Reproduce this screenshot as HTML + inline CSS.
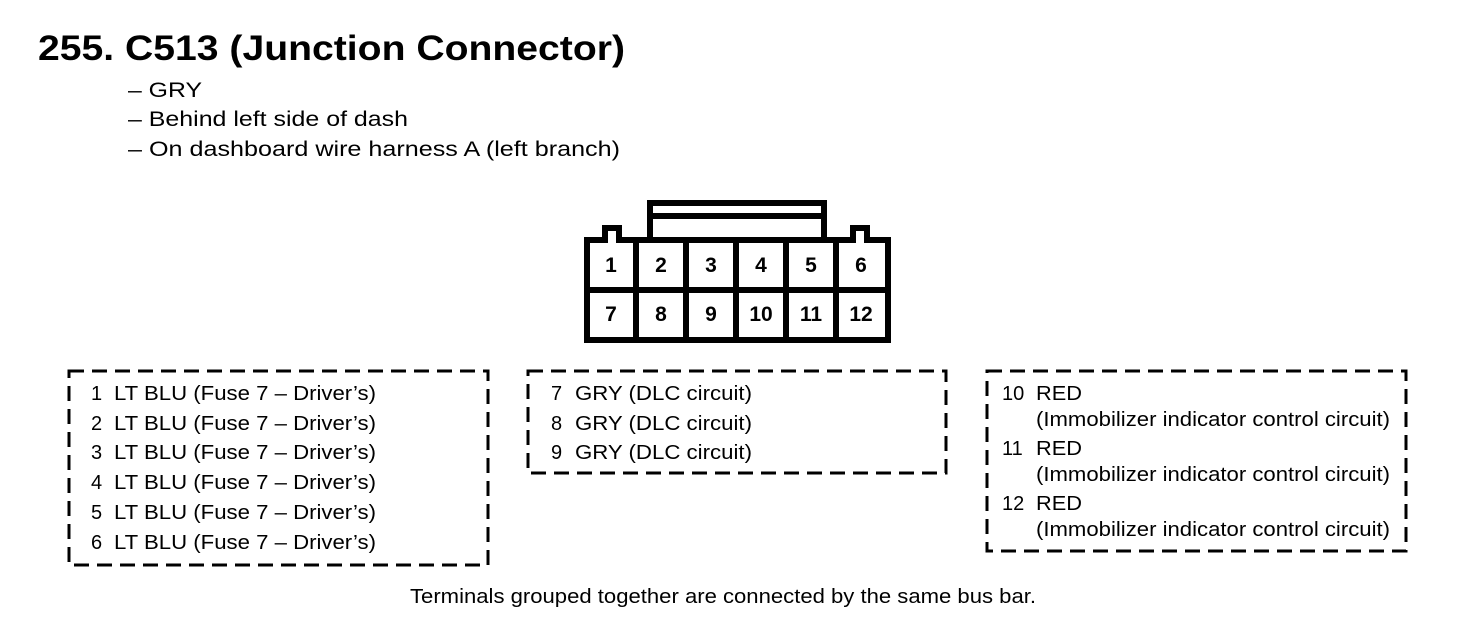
<!DOCTYPE html>
<html><head><style>html,body{margin:0;padding:0;background:#fff}</style></head>
<body>
<svg width="1472" height="618" viewBox="0 0 1472 618" xmlns="http://www.w3.org/2000/svg" font-family="Liberation Sans, Arial, sans-serif">
<rect width="1472" height="618" fill="#fff"/>
<text x="38" y="60" font-size="35" font-weight="bold" textLength="587" lengthAdjust="spacingAndGlyphs">255. C513 (Junction Connector)</text>
<g font-size="21">
<text x="128" y="97" textLength="74" lengthAdjust="spacingAndGlyphs">– GRY</text>
<text x="128" y="126" textLength="280" lengthAdjust="spacingAndGlyphs">– Behind left side of dash</text>
<text x="128" y="156" textLength="492" lengthAdjust="spacingAndGlyphs">– On dashboard wire harness A (left branch)</text>
</g>
<g fill="none" stroke="#000" stroke-width="6">
<path d="M650 240 V203 H824 V240"/>
<line x1="650" y1="216" x2="824" y2="216"/>
<path d="M587 240 H605 V228 H619 V240 H853 V228 H867 V240 H888 V340 H587 Z"/>
<line x1="587" y1="290" x2="888" y2="290"/>
<line x1="636" y1="240" x2="636" y2="340"/>
<line x1="686" y1="240" x2="686" y2="340"/>
<line x1="736" y1="240" x2="736" y2="340"/>
<line x1="786" y1="240" x2="786" y2="340"/>
<line x1="836" y1="240" x2="836" y2="340"/>
</g>
<g font-size="21" font-weight="bold" text-anchor="middle">
<text x="611" y="272">1</text><text x="661" y="272">2</text><text x="711" y="272">3</text><text x="761" y="272">4</text><text x="811" y="272">5</text><text x="861" y="272">6</text>
<text x="611" y="321">7</text><text x="661" y="321">8</text><text x="711" y="321">9</text><text x="761" y="321">10</text><text x="811" y="321">11</text><text x="861" y="321">12</text>
</g>
<g fill="none" stroke="#000" stroke-width="3" stroke-dasharray="15,8">
<rect x="69" y="371" width="419" height="194"/>
<rect x="528" y="371" width="418" height="102"/>
<rect x="987" y="371" width="419" height="180"/>
</g>
<g font-size="20">
<text x="91" y="400">1</text><text x="114" y="400" textLength="262" lengthAdjust="spacingAndGlyphs">LT BLU (Fuse 7 – Driver’s)</text>
<text x="91" y="430">2</text><text x="114" y="430" textLength="262" lengthAdjust="spacingAndGlyphs">LT BLU (Fuse 7 – Driver’s)</text>
<text x="91" y="459">3</text><text x="114" y="459" textLength="262" lengthAdjust="spacingAndGlyphs">LT BLU (Fuse 7 – Driver’s)</text>
<text x="91" y="489">4</text><text x="114" y="489" textLength="262" lengthAdjust="spacingAndGlyphs">LT BLU (Fuse 7 – Driver’s)</text>
<text x="91" y="519">5</text><text x="114" y="519" textLength="262" lengthAdjust="spacingAndGlyphs">LT BLU (Fuse 7 – Driver’s)</text>
<text x="91" y="549">6</text><text x="114" y="549" textLength="262" lengthAdjust="spacingAndGlyphs">LT BLU (Fuse 7 – Driver’s)</text>
<text x="551" y="400">7</text><text x="575" y="400" textLength="177" lengthAdjust="spacingAndGlyphs">GRY (DLC circuit)</text>
<text x="551" y="430">8</text><text x="575" y="430" textLength="177" lengthAdjust="spacingAndGlyphs">GRY (DLC circuit)</text>
<text x="551" y="459">9</text><text x="575" y="459" textLength="177" lengthAdjust="spacingAndGlyphs">GRY (DLC circuit)</text>
<text x="1002" y="400">10</text><text x="1036" y="400" textLength="46" lengthAdjust="spacingAndGlyphs">RED</text>
<text x="1036" y="426" textLength="354" lengthAdjust="spacingAndGlyphs">(Immobilizer indicator control circuit)</text>
<text x="1002" y="455">11</text><text x="1036" y="455" textLength="46" lengthAdjust="spacingAndGlyphs">RED</text>
<text x="1036" y="481" textLength="354" lengthAdjust="spacingAndGlyphs">(Immobilizer indicator control circuit)</text>
<text x="1002" y="510">12</text><text x="1036" y="510" textLength="46" lengthAdjust="spacingAndGlyphs">RED</text>
<text x="1036" y="536" textLength="354" lengthAdjust="spacingAndGlyphs">(Immobilizer indicator control circuit)</text>
<text x="410" y="603" textLength="626" lengthAdjust="spacingAndGlyphs">Terminals grouped together are connected by the same bus bar.</text>
</g>
</svg>
</body></html>
